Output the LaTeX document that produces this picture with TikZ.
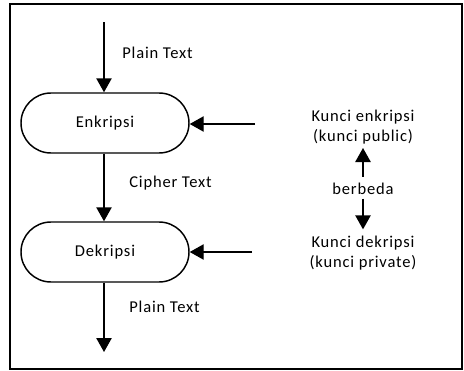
\documentclass[tikz,border=0pt]{standalone}
\usepackage{fontspec}
\setmainfont{Carlito}[LetterSpace=5]
\usetikzlibrary{arrows.meta,shapes.misc}

\tikzset{
  proses/.style={rounded rectangle, draw, line width=1.1pt, minimum width=127.5pt, minimum height=45pt, inner sep=0pt},
  panah/.style={line width=1.1pt, -{Triangle[width=11.5pt,length=10.5pt]}},
  teks/.style={inner sep=0.75pt, font=\fontsize{12.4}{15}\selectfont, align=center}
}

\begin{document}
\begin{tikzpicture}[x=0.75pt,y=0.75pt,yscale=-1,xscale=1]
\useasboundingbox (0,0) rectangle (464,371);

%Frame
\draw [line width=1.1pt] (10,4) rectangle (462,369) ;

%Process shapes
\node [proses, teks] (enk) at (105,123) {Enkripsi};
\node [proses, teks] (dek) at (105,252) {Dekripsi};

%Free ends
\coordinate (masuk) at (104,22);
\coordinate (keluar) at (104,352);
\coordinate (kananA) at (255,124);
\coordinate (kananB) at (252,252);

%Key texts
\node [teks] (kunciEnk) at (363,127) {Kunci enkripsi\\(kunci public)};
\node [teks] (beda) at (363,189) {berbeda};
\node [teks] (kunciDek) at (363,253) {Kunci dekripsi\\(kunci private)};

%Arrows
\draw [panah] (masuk) -- (enk.north -| masuk) ;
\draw [panah] (enk.south -| masuk) -- (dek.north -| masuk) ;
\draw [panah] (dek.south -| masuk) -- (keluar) ;
\draw [panah] (kananA) -- (enk.east |- kananA) ;
\draw [panah] (kananB) -- (dek.east |- kananB) ;
\draw [panah, shorten <=4pt, shorten >=2pt] (beda) -- (kunciEnk) ;
\draw [panah, shorten <=2pt, shorten >=4pt] (beda) -- (kunciDek) ;

% Text Node
\draw (121,53) node [anchor=west][teks]    {Plain Text};
% Text Node
\draw (128,183) node [anchor=west][teks]    {Cipher Text};
% Text Node
\draw (128,307) node [anchor=west][teks]    {Plain Text};

\end{tikzpicture}
\end{document}
